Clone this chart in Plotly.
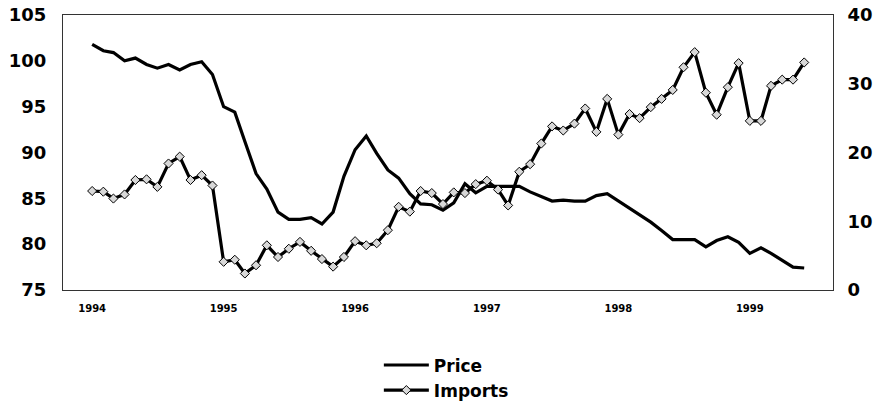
import pandas as pd
import plotly.graph_objects as go

# Monthly data, Jan 1994 - Jun 1999
months = pd.date_range("1994-01-01", periods=66, freq="MS")

price = [
    101.8, 101.1, 100.9, 100.0, 100.3, 99.6, 99.2, 99.6, 99.0, 99.6, 99.9, 98.5,
    95.0, 94.4, 91.2, 87.7, 86.0, 83.5, 82.7, 82.7, 82.9, 82.2, 83.5, 87.4,
    90.3, 91.8, 89.9, 88.1, 87.2, 85.5, 84.4, 84.3, 83.7, 84.5, 86.6, 85.6,
    86.3, 86.3, 86.3, 86.3, 85.7, 85.2, 84.7, 84.8, 84.7, 84.7, 85.3, 85.5,
    84.7, 84.0, 83.2, 82.4, 81.5, 80.5, 80.5, 80.5, 79.7, 80.4, 80.8, 80.2,
    79.0, 79.6, 79.0, 78.2, 77.5, 77.4,
]

imports = [
    14.4, 14.3, 13.3, 13.9, 16.0, 16.1, 15.0, 18.4, 19.4, 16.0, 16.7, 15.2,
    4.1, 4.4, 2.4, 3.6, 6.5, 4.8, 6.0, 7.0, 5.7, 4.5, 3.4, 4.8,
    7.1, 6.5, 6.8, 8.7, 12.1, 11.4, 14.4, 14.1, 12.5, 14.2, 14.1, 15.4,
    15.9, 14.6, 12.3, 17.2, 18.3, 21.3, 23.8, 23.2, 24.2, 26.4, 23.0, 27.8,
    22.6, 25.6, 25.0, 26.6, 27.8, 29.1, 32.4, 34.6, 28.7, 25.5, 29.5, 33.0,
    24.6, 24.6, 29.7, 30.6, 30.6, 33.1,
]

year_ticks = ["1994-01-01", "1995-01-01", "1996-01-01", "1997-01-01", "1998-01-01", "1999-01-01"]
year_labels = ["1994", "1995", "1996", "1997", "1998", "1999"]

FONT = "DejaVu Sans"

fig = go.Figure()
fig.add_trace(go.Scatter(
    x=months, y=price, name="<b>Price</b>", mode="lines",
    line=dict(color="black", width=3.2),
))
fig.add_trace(go.Scatter(
    x=months, y=imports, name="<b>Imports</b>", mode="lines+markers", yaxis="y2",
    line=dict(color="black", width=3.2),
    marker=dict(symbol="diamond", size=7, color="#d8d8d8",
                line=dict(color="black", width=1)),
))

fig.update_layout(
    width=879, height=404,
    margin=dict(l=63, r=46, t=15, b=114, autoexpand=False),
    paper_bgcolor="white", plot_bgcolor="white",
    font=dict(family=FONT, color="black"),
    showlegend=True,
    legend=dict(
        orientation="v", xref="container", yref="container",
        x=0.431, xanchor="left", y=0.140, yanchor="top",
        font=dict(family=FONT, size=17, color="black"),
        itemwidth=45, bgcolor="rgba(0,0,0,0)", tracegroupgap=0,
    ),
    xaxis=dict(
        type="date", range=["1993-10-12", "1999-08-20"],
        tickvals=year_ticks, ticktext=["<b>%s</b>" % t for t in year_labels],
        tickfont=dict(family=FONT, size=10, color="black"),
        showgrid=False, zeroline=False, ticks="", ticklabelstandoff=9,
        showline=True, mirror=True, linecolor="#333", linewidth=1,
        automargin=False,
    ),
    yaxis=dict(
        range=[75, 105], tickvals=[75, 80, 85, 90, 95, 100, 105],
        ticktext=["<b>%d</b>" % v for v in [75, 80, 85, 90, 95, 100, 105]],
        tickfont=dict(family=FONT, size=18, color="black"),
        showgrid=False, zeroline=False, ticks="", ticklabelstandoff=12,
        showline=True, mirror=True, linecolor="#333", linewidth=1,
        automargin=False,
    ),
    yaxis2=dict(
        range=[0, 40], tickvals=[0, 10, 20, 30, 40],
        ticktext=["<b>%d</b>" % v for v in [0, 10, 20, 30, 40]],
        tickfont=dict(family=FONT, size=18, color="black"),
        overlaying="y", side="right",
        showgrid=False, zeroline=False, ticks="", ticklabelstandoff=10,
        showline=True, linecolor="#333", linewidth=1,
        automargin=False,
    ),
)

fig.write_html(
    "out.html",
    config={"displayModeBar": False},
    post_script="document.body.style.margin='0';document.body.style.overflow='hidden';",
)
